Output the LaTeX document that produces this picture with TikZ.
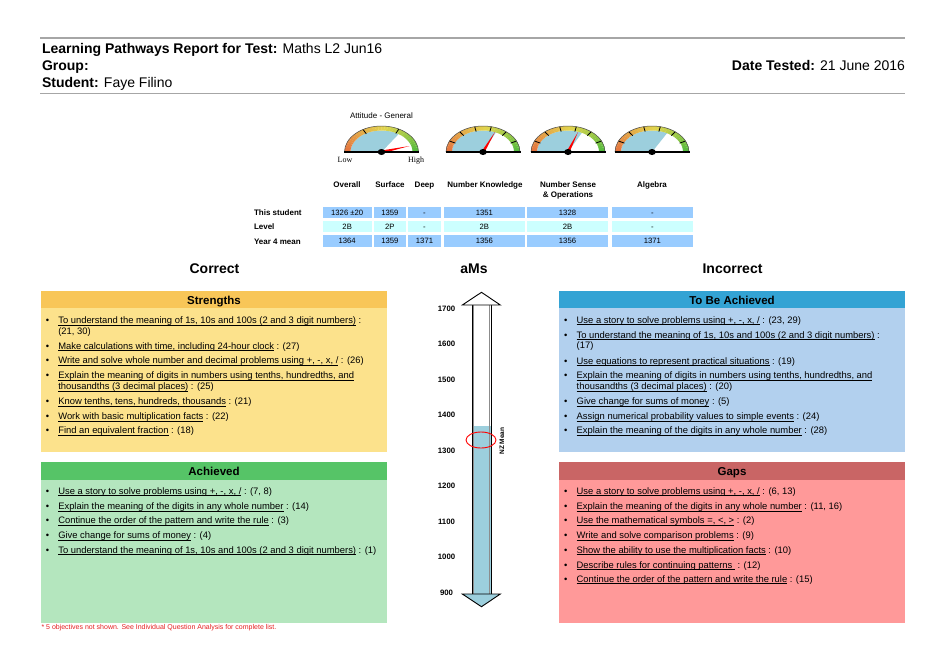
\documentclass[tikz,border=0pt]{standalone}
\usepackage{fontspec}
\setmainfont{Liberation Sans}
\newfontfamily\seriff{Liberation Serif}
\usetikzlibrary{calc}
\definecolor{rulegray}{HTML}{A6A6A6}
\definecolor{strH}{HTML}{F8C658}
\definecolor{strB}{HTML}{FCE28C}
\definecolor{achH}{HTML}{56C467}
\definecolor{achB}{HTML}{B4E6BE}
\definecolor{tbaH}{HTML}{33A3D4}
\definecolor{tbaB}{HTML}{B2D0EE}
\definecolor{gapH}{HTML}{C96565}
\definecolor{gapB}{HTML}{FF9999}
\definecolor{cellA}{HTML}{99CCFF}
\definecolor{cellB}{HTML}{CCFFFF}
\definecolor{gblue}{HTML}{9CCFDD}
\definecolor{gO}{HTML}{E5713F}
\definecolor{gY}{HTML}{E2D64E}
\definecolor{gG}{HTML}{4FBA3E}
\definecolor{noteRed}{HTML}{E52020}
\newcommand\myul[1]{\setbox0\hbox{#1}\rlap{\rule[-1.7pt]{\wd0}{0.55pt}}\box0\relax}
\tikzset{
  every node/.style={inner sep=0pt, outer sep=0pt},
  itemtxt/.style={anchor=base west, align=left, font=\fontsize{9.4}{10.8}\selectfont},
  bul/.style={anchor=base west, font=\fontsize{9.4}{10.8}\selectfont},
  hdr/.style={anchor=base west, font=\fontsize{14}{17}\selectfont},
  sechead/.style={anchor=base, font=\bfseries\fontsize{14}{17}\selectfont},
  boxtitle/.style={anchor=base, font=\bfseries\fontsize{11.5}{13}\selectfont},
  colhead/.style={anchor=base, font=\bfseries\fontsize{8}{9.6}\selectfont},
  rowlab/.style={anchor=base west, font=\bfseries\fontsize{8}{9.6}\selectfont},
  cellval/.style={anchor=base, font=\fontsize{7.7}{9}\selectfont},
  scl/.style={anchor=base, font=\bfseries\fontsize{7.8}{9}\selectfont},
  gaugelab/.style={anchor=base, font=\seriff\fontsize{8}{9}\selectfont},
}
% one-line item
\newcommand\bitem[4]{%
  \node[bul] (#3b) at ({#1-12.5},#2) {\textbullet};
  \node[itemtxt] (#3) at (#1,#2) {#4};}
% two-line item (base anchor is the last line)
\newcommand\bitemII[4]{%
  \node[bul] (#3b) at ({#1-12.5},#2) {\textbullet};
  \node[itemtxt] (#3) at (#1,{#2+10.8}) {#4};}
\newcommand\cell[7]{%
  \fill[#6] (#2,#4) rectangle (#3,#5);
  \node[cellval] (#1) at ({(#2+#3)/2},{(#4+#5)/2+2.8}) {#7};}
\newcommand\drawgauge[5]{%
  \begin{scope}[shift={(#1,152)},y=1pt]
    \fill[gblue] (0,0) -- (180:31 and 21.5) arc[start angle=180, end angle=#2, x radius=31, y radius=21.5] -- cycle;
    \foreach \a in {0,5,...,175}{%
      \pgfmathtruncatemacro\gmid{\a+3}%
      \ifnum\gmid<85 \pgfmathtruncatemacro\gp{100*\gmid/85}\edef\gc{gY!\gp!gG}%
      \else\pgfmathtruncatemacro\gp{100*(\gmid-85)/95}\edef\gc{gO!\gp!gY}\fi
      \fill[color=\gc] (\a:37 and 26) arc[start angle=\a, end angle=\a+5.3, x radius=37, y radius=26]
        -- (\a+5.3:31 and 21.5) arc[start angle=\a+5.3, end angle=\a, x radius=31, y radius=21.5] -- cycle;
    }
    \foreach \t in {#3} \draw[line width=0.8] (\t:30.5 and 21) -- (\t:37 and 26);
    \draw[line width=0.5, black!70] (0:37 and 26) arc[start angle=0, end angle=180, x radius=37, y radius=26];
    \fill[red] ($(0,0)!1.5pt!90:(#4,#5)$) -- (#4,#5) -- ($(0,0)!1.5pt!-90:(#4,#5)$) -- cycle;
    \fill[black] (0,0) ellipse[x radius=3.8, y radius=3];
    \draw[line width=2.6] (-37.5,0) -- (37.5,0);
  \end{scope}}

\begin{document}
\begin{tikzpicture}[x=1pt,y=-1pt]
\useasboundingbox (0,0) rectangle (949,650);
\fill[white] (0,0) rectangle (949,650);

% header
\draw[rulegray, line width=1.6] (40,38) -- (905,38);
\draw[rulegray, line width=1.6] (40,93.5) -- (905,93.5);
\node[hdr] (title) at (42,54) {\textbf{Learning Pathways Report for Test:} Maths L2 Jun16};
\node[hdr] (group) at (42,71) {\textbf{Group:}};
\node[hdr] (student) at (42,88) {\textbf{Student:} Faye Filino};
\node[hdr, anchor=base east] (date) at (905,71) {\textbf{Date Tested:} 21 June 2016};

% gauges
\node[anchor=base, font=\fontsize{8}{9}\selectfont] (att) at (381.5,118) {Attitude - General};
\drawgauge{381.5}{56.5}{120,62}{28}{6}
\drawgauge{483}{65.5}{155,129,103,77,51,25}{12}{20}
\drawgauge{568}{63.4}{155,129,103,77,51,25}{10}{20}
\drawgauge{652}{61}{155,129,103,77,51,25}{2}{2}
\node[gaugelab] (low) at (345,162.5) {Low};
\node[gaugelab] (high) at (416,162.5) {High};

% column headers
\node[colhead] (hOverall) at (347,187) {Overall};
\node[colhead] (hSurface) at (390,187) {Surface};
\node[colhead] (hDeep) at (424.5,187) {Deep};
\node[colhead] (hNK) at (485,187) {Number Knowledge};
\node[colhead] (hNS1) at (568,187) {Number Sense};
\node[colhead] (hNS2) at (568,197) {\& Operations};
\node[colhead] (hAlg) at (652,187) {Algebra};

% row labels
\node[rowlab] (rThis) at (254,215) {This student};
\node[rowlab] (rLevel) at (254,229.7) {Level};
\node[rowlab] (rMean) at (254,244.5) {Year 4 mean};

% table cells
\cell{c11}{322.7}{371.7}{206.7}{218.3}{cellA}{1326 ±20}
\cell{c12}{374}{405.7}{206.7}{218.3}{cellA}{1359}
\cell{c13}{408}{441}{206.7}{218.3}{cellA}{-}
\cell{c14}{443.7}{525}{206.7}{218.3}{cellA}{1351}
\cell{c15}{527}{608}{206.7}{218.3}{cellA}{1328}
\cell{c16}{611.7}{693}{206.7}{218.3}{cellA}{-}
\cell{c21}{322.7}{371.7}{220.7}{232.3}{cellB}{2B}
\cell{c22}{374}{405.7}{220.7}{232.3}{cellB}{2P}
\cell{c23}{408}{441}{220.7}{232.3}{cellB}{-}
\cell{c24}{443.7}{525}{220.7}{232.3}{cellB}{2B}
\cell{c25}{527}{608}{220.7}{232.3}{cellB}{2B}
\cell{c26}{611.7}{693}{220.7}{232.3}{cellB}{-}
\cell{c31}{322.7}{371.7}{235}{247.3}{cellA}{1364}
\cell{c32}{374}{405.7}{235}{247.3}{cellA}{1359}
\cell{c33}{408}{441}{235}{247.3}{cellA}{1371}
\cell{c34}{443.7}{525}{235}{247.3}{cellA}{1356}
\cell{c35}{527}{608}{235}{247.3}{cellA}{1356}
\cell{c36}{611.7}{693}{235}{247.3}{cellA}{1371}

% section headings
\node[sechead] (correct) at (214.5,273) {Correct};
\node[sechead] (ams) at (474,273) {aMs};
\node[sechead] (incorrect) at (732.5,273) {Incorrect};

% boxes
\fill[strB] (41,308.3) rectangle (387,451.7);
\fill[strH] (41,291) rectangle (387,308.3);
\fill[achB] (41,480) rectangle (387,622.7);
\fill[achH] (41,461.7) rectangle (387,480);
\fill[tbaB] (559.3,308.3) rectangle (905,451.7);
\fill[tbaH] (559.3,291) rectangle (905,308.3);
\fill[gapB] (559.3,480) rectangle (905,622.7);
\fill[gapH] (559.3,461.7) rectangle (905,480);
\node[boxtitle] (tStr) at (214,304) {Strengths};
\node[boxtitle] (tAch) at (214,475) {Achieved};
\node[boxtitle] (tTba) at (732,304) {To Be Achieved};
\node[boxtitle] (tGap) at (732,475) {Gaps};

% Strengths
\bitemII{58.3}{323.7}{s1}{\myul{To understand the meaning of 1s, 10s and 100s (2 and 3 digit numbers)} :\\(21, 30)}
\bitem{58.3}{349}{s2}{\myul{Make calculations with time, including 24-hour clock} : (27)}
\bitem{58.3}{363.7}{s3}{\myul{Write and solve whole number and decimal problems using +, -, x, /} : (26)}
\bitemII{58.3}{378.7}{s4}{\myul{Explain the meaning of digits in numbers using tenths, hundredths, and}\\\myul{thousandths (3 decimal places)} : (25)}
\bitem{58.3}{404.7}{s5}{\myul{Know tenths, tens, hundreds, thousands} : (21)}
\bitem{58.3}{419.7}{s6}{\myul{Work with basic multiplication facts} : (22)}
\bitem{58.3}{433.7}{s7}{\myul{Find an equivalent fraction} : (18)}

% To Be Achieved
\bitem{576.7}{323}{t1}{\myul{Use a story to solve problems using +, -, x, /} : (23, 29)}
\bitemII{576.7}{338}{t2}{\myul{To understand the meaning of 1s, 10s and 100s (2 and 3 digit numbers)} :\\(17)}
\bitem{576.7}{364}{t3}{\myul{Use equations to represent practical situations} : (19)}
\bitemII{576.7}{378.7}{t4}{\myul{Explain the meaning of digits in numbers using tenths, hundredths, and}\\\myul{thousandths (3 decimal places)} : (20)}
\bitem{576.7}{404.7}{t5}{\myul{Give change for sums of money} : (5)}
\bitem{576.7}{419.7}{t6}{\myul{Assign numerical probability values to simple events} : (24)}
\bitem{576.7}{433.7}{t7}{\myul{Explain the meaning of the digits in any whole number} : (28)}

% Achieved
\bitem{58.3}{494}{a1}{\myul{Use a story to solve problems using +, -, x, /} : (7, 8)}
\bitem{58.3}{509.7}{a2}{\myul{Explain the meaning of the digits in any whole number} : (14)}
\bitem{58.3}{523.7}{a3}{\myul{Continue the order of the pattern and write the rule} : (3)}
\bitem{58.3}{538.7}{a4}{\myul{Give change for sums of money} : (4)}
\bitem{58.3}{553}{a5}{\myul{To understand the meaning of 1s, 10s and 100s (2 and 3 digit numbers)} : (1)}

% Gaps
\bitem{576.7}{494}{g1}{\myul{Use a story to solve problems using +, -, x, /} : (6, 13)}
\bitem{576.7}{509.7}{g2}{\myul{Explain the meaning of the digits in any whole number} : (11, 16)}
\bitem{576.7}{523.7}{g3}{\myul{Use the mathematical symbols =, <, >} : (2)}
\bitem{576.7}{538.7}{g4}{\myul{Write and solve comparison problems} : (9)}
\bitem{576.7}{553}{g5}{\myul{Show the ability to use the multiplication facts} : (10)}
\bitem{576.7}{568}{g6}{\myul{Describe rules for continuing patterns\ } : (12)}
\bitem{576.7}{582.3}{g7}{\myul{Continue the order of the pattern and write the rule} : (15)}

% footnote
\node[anchor=base west, text=noteRed, font=\fontsize{7}{8}\selectfont] (note) at (41.5,629.8) {* 5 objectives not shown. See Individual Question Analysis for complete list.};

% thermometer
\fill[gblue] (472,425.7) rectangle (491,594);
\draw[line width=1.4, black!45] (473.6,305) -- (473.6,594);
\draw[line width=1.4, black!45] (489.4,305) -- (489.4,594);
\draw[line width=0.9] (472,305) -- (472,594);
\draw[line width=0.9] (491,305) -- (491,594);
\draw[line width=0.9, fill=white, line join=miter] (462.3,305) -- (481.5,292.3) -- (500.3,305) -- cycle;
\draw[line width=0.9, fill=gblue, line join=miter] (462.3,594) -- (500.3,594) -- (481.5,606.7) -- cycle;
\draw[red, line width=0.9] (481,440) ellipse[x radius=15, y radius=8];
\node[rotate=90, font=\bfseries\fontsize{6.5}{8}\selectfont] (nzmean) at (502,441) {NZ Mean};
\foreach \v in {1700,1600,...,900}{
  \node[scl] (s\v) at (446.5,{308.3+(1700-\v)*0.3555+2.8}) {\v};
}
\end{tikzpicture}
\end{document}
